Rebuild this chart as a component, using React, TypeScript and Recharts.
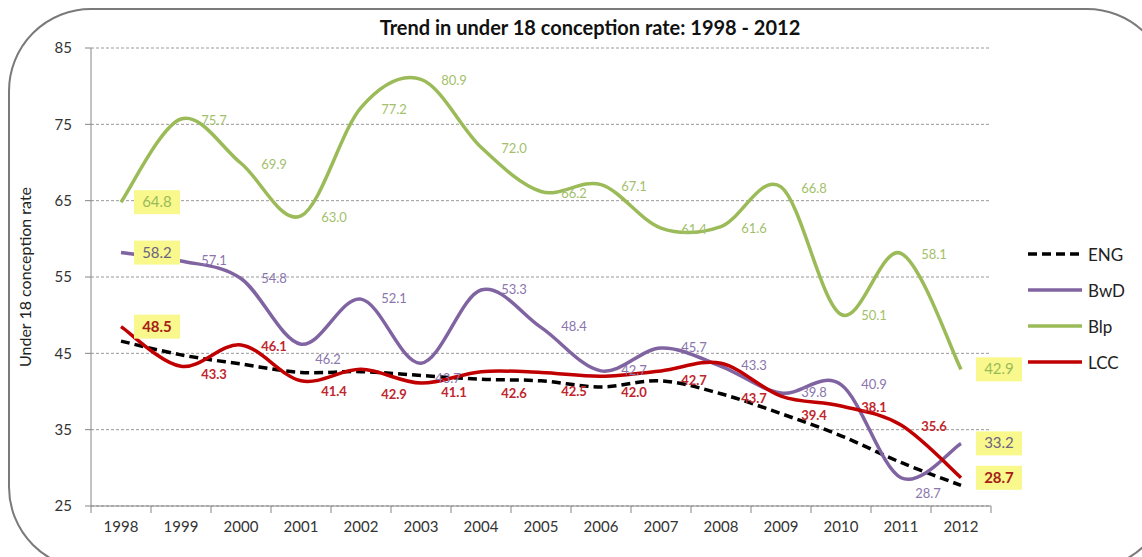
import {
  LineChart,
  Line,
  XAxis,
  YAxis,
  CartesianGrid,
  LabelList,
  Legend,
} from 'recharts';

const YEARS = ['1998', '1999', '2000', '2001', '2002', '2003', '2004', '2005', '2006', '2007', '2008', '2009', '2010', '2011', '2012'];
const ENG = [46.6, 44.8, 43.6, 42.5, 42.6, 42.1, 41.6, 41.4, 40.6, 41.4, 39.7, 37.1, 34.2, 30.7, 27.7];
const BWD = [58.2, 57.1, 54.8, 46.2, 52.1, 43.7, 53.3, 48.4, 42.7, 45.7, 43.3, 39.8, 40.9, 28.7, 33.2];
const BLP = [64.8, 75.7, 69.9, 63.0, 77.2, 80.9, 72.0, 66.2, 67.1, 61.4, 61.6, 66.8, 50.1, 58.1, 42.9];
const LCC = [48.5, 43.3, 46.1, 41.4, 42.9, 41.1, 42.6, 42.5, 42.0, 42.7, 43.7, 39.4, 38.1, 35.6, 28.7];
const Y_TICKS = [25, 35, 45, 55, 65, 75, 85];

// vertical nudge (px) of the LCC value labels, as they were hand-placed in the original
const LCC_LABEL_NUDGE = [0, 9, 2, 11, 26, 10, 22, 20, 17, 10, 36, 20, 2, 2, 0];

const FONT = 'Lato, "Open Sans", sans-serif';

const SERIES = [
  { key: 'ENG', name: 'ENG', color: '#000000', dash: '9 5' },
  { key: 'BwD', name: 'BwD', color: '#8064A2', dash: undefined },
  { key: 'Blp', name: 'Blp', color: '#9BBB59', dash: undefined },
  { key: 'LCC', name: 'LCC', color: '#C00000', dash: undefined },
];

const chartData = YEARS.map((year, i) => ({
  year,
  ENG: ENG[i],
  BwD: BWD[i],
  Blp: BLP[i],
  LCC: LCC[i],
}));

// Excel-style smoothed line (cardinal spline, tension 1/6)
const excelCurve = (context: any) => {
  let pts: number[][] = [];
  return {
    areaStart() {},
    areaEnd() {},
    lineStart() {
      pts = [];
    },
    point(x: number, y: number) {
      pts.push([+x, +y]);
    },
    lineEnd() {
      const n = pts.length;
      if (!n) return;
      context.moveTo(pts[0][0], pts[0][1]);
      const t = 1 / 6;
      for (let i = 0; i < n - 1; i++) {
        const p0 = pts[i - 1] || pts[i];
        const p1 = pts[i];
        const p2 = pts[i + 1];
        const p3 = pts[i + 2] || p2;
        context.bezierCurveTo(
          p1[0] + (p2[0] - p0[0]) * t,
          p1[1] + (p2[1] - p0[1]) * t,
          p2[0] - (p3[0] - p1[0]) * t,
          p2[1] - (p3[1] - p1[1]) * t,
          p2[0],
          p2[1]
        );
      }
    },
  };
};

// label sits below the line at a sharp local minimum (as Excel placed it)
const isDeepDip = (values: number[], i: number) =>
  i > 0 && i < values.length - 1 && values[i - 1] - values[i] > 8 && values[i + 1] - values[i] > 3;

const makeLabel =
  (values: number[], color: string, boxText: string, bold: boolean, nudge: (i: number) => number) =>
  (props: any) => {
    const { x, y, value, index } = props;
    if (x == null || y == null) return null;
    const last = YEARS.length - 1;
    if (index === 0 || index === last) {
      const cx = x + (index === 0 ? 36 : 38);
      return (
        <g>
          <rect x={cx - 23} y={y - 12} width={46} height={24} fill="#F8F88C" />
          <text
            x={cx}
            y={y + 5}
            textAnchor="middle"
            fontFamily={FONT}
            fontSize={15}
            fontWeight={bold ? 700 : 400}
            fill={boxText}
          >
            {Number(value).toFixed(1)}
          </text>
        </g>
      );
    }
    const dip = isDeepDip(values, index);
    return (
      <text
        x={x + (dip ? 27 : 33)}
        y={y + 4 + (dip ? 16 : nudge(index))}
        textAnchor="middle"
        fontFamily={FONT}
        fontSize={13}
        fontWeight={bold ? 700 : 400}
        fill={color}
      >
        {Number(value).toFixed(1)}
      </text>
    );
  };

const XTick = (props: any) => {
  const { x, y, payload, index } = props;
  return (
    <g>
      {index === 0 && <line x1={x - 30} y1={y} x2={x - 30} y2={y + 7} stroke="#868686" />}
      <line x1={x + 30} y1={y} x2={x + 30} y2={y + 7} stroke="#868686" />
      <text x={x} y={y + 26} textAnchor="middle" fontFamily={FONT} fontSize={15} fill="#333">
        {payload.value}
      </text>
    </g>
  );
};

const LegendBox = () => (
  <div style={{ fontFamily: FONT }}>
    {SERIES.map((s) => (
      <div key={s.key} style={{ display: 'flex', alignItems: 'center', height: 36 }}>
        <svg width={60} height={10}>
          <line
            x1={4}
            y1={5}
            x2={58}
            y2={5}
            stroke={s.color}
            strokeWidth={3.5}
            strokeDasharray={s.dash}
          />
        </svg>
        <span style={{ fontSize: 17, color: '#222', marginLeft: 4 }}>{s.name}</span>
      </div>
    ))}
  </div>
);

export default function App() {
  return (
    <div
      style={{
        position: 'absolute',
        left: 0,
        top: 0,
        width: 1142,
        height: 557,
        overflow: 'hidden',
        background: '#fff',
      }}
    >
      <svg width={1142} height={557} style={{ position: 'absolute', left: 0, top: 0 }}>
        <rect x={9} y={9} width={1160} height={560} rx={82} fill="#fff" stroke="#7a7a7a" strokeWidth={2} />
        <text x={590} y={35} textAnchor="middle" fontFamily={FONT} fontWeight={700} fontSize={20} fill="#111">
          Trend in under 18 conception rate: 1998 - 2012
        </text>
        <text
          transform="translate(31,277) rotate(-90)"
          textAnchor="middle"
          fontFamily={FONT}
          fontSize={16}
          fill="#222"
        >
          Under 18 conception rate
        </text>
      </svg>
      <div style={{ position: 'absolute', left: 0, top: 0 }}>
        <LineChart width={1142} height={557} data={chartData} margin={{ top: 48, right: 151, bottom: 21, left: 41 }}>
          <CartesianGrid horizontal vertical={false} stroke="#999" strokeDasharray="3 2" />
          <XAxis
            dataKey="year"
            padding={{ left: 30, right: 30 }}
            stroke="#868686"
            tickLine={false}
            tickSize={0}
            tickMargin={0}
            height={30}
            interval={0}
            tick={<XTick />}
          />
          <YAxis
            domain={[25, 85]}
            ticks={Y_TICKS}
            width={50}
            stroke="#868686"
            tickSize={6}
            tickMargin={13}
            tick={{ fontFamily: FONT, fontSize: 15, fill: '#333' }}
          />
          <Legend
            layout="horizontal"
            verticalAlign="middle"
            align="center"
            wrapperStyle={{ left: 1024, top: 236, width: 118 }}
            content={<LegendBox />}
          />
          <Line
            dataKey="ENG"
            name="ENG"
            type={excelCurve as any}
            stroke="#000"
            strokeWidth={3.5}
            strokeDasharray="9 5"
            dot={false}
            isAnimationActive={false}
          />
          <Line
            dataKey="BwD"
            name="BwD"
            type={excelCurve as any}
            stroke="#8064A2"
            strokeWidth={3.5}
            dot={false}
            isAnimationActive={false}
          >
            <LabelList dataKey="BwD" content={makeLabel(BWD, '#8A75AD', '#6E6380', false, () => 0)} />
          </Line>
          <Line
            dataKey="Blp"
            name="Blp"
            type={excelCurve as any}
            stroke="#9BBB59"
            strokeWidth={3.5}
            dot={false}
            isAnimationActive={false}
          >
            <LabelList dataKey="Blp" content={makeLabel([], '#A3BF6B', '#9BBB59', false, () => 2)} />
          </Line>
          <Line
            dataKey="LCC"
            name="LCC"
            type={excelCurve as any}
            stroke="#C00000"
            strokeWidth={3.5}
            dot={false}
            isAnimationActive={false}
          >
            <LabelList
              dataKey="LCC"
              content={makeLabel([], '#C0262D', '#A52016', true, (i) => LCC_LABEL_NUDGE[i] ?? 15)}
            />
          </Line>
        </LineChart>
      </div>
    </div>
  );
}
